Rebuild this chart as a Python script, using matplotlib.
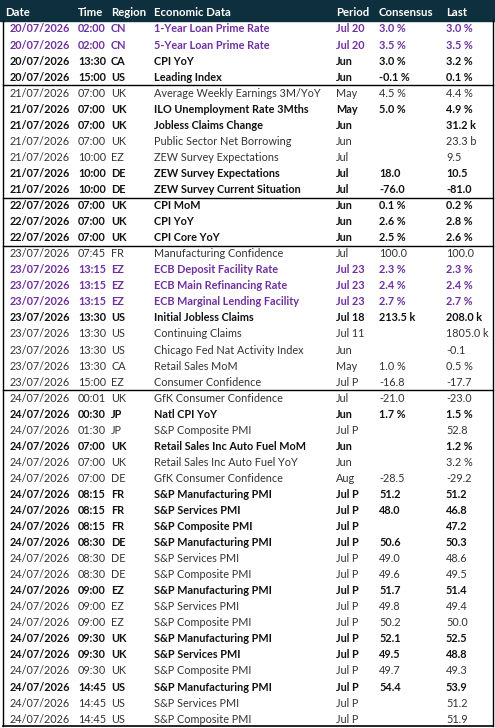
import matplotlib
matplotlib.use("Agg")
import matplotlib.pyplot as plt
from matplotlib.patches import Rectangle
from matplotlib.lines import Line2D

headers = ["Date", "Time", "Region", "Economic Data", "Period", "Consensus", "Last"]
dates = ["20/07/2026"]*4 + ["21/07/2026"]*7 + ["22/07/2026"]*3 + ["23/07/2026"]*9 + ["24/07/2026"]*21
times = ["02:00","02:00","13:30","15:00","07:00","07:00","07:00","07:00","10:00","10:00","10:00",
         "07:00","07:00","07:00","07:45","13:15","13:15","13:15","13:30","13:30","13:30","13:30","15:00",
         "00:01","00:30","01:30","07:00","07:00","07:00","08:15","08:15","08:15","08:30","08:30","08:30",
         "09:00","09:00","09:00","09:30","09:30","09:30","14:45","14:45","14:45"]
regions = ["CN","CN","CA","US","UK","UK","UK","UK","EZ","DE","DE","UK","UK","UK","FR","EZ","EZ","EZ",
           "US","US","US","CA","EZ","UK","JP","JP","UK","UK","DE","FR","FR","FR","DE","DE","DE",
           "EZ","EZ","EZ","UK","UK","UK","US","US","US"]
events = ["1-Year Loan Prime Rate","5-Year Loan Prime Rate","CPI YoY","Leading Index",
          "Average Weekly Earnings 3M/YoY","ILO Unemployment Rate 3Mths","Jobless Claims Change",
          "Public Sector Net Borrowing","ZEW Survey Expectations","ZEW Survey Expectations",
          "ZEW Survey Current Situation","CPI MoM","CPI YoY","CPI Core YoY","Manufacturing Confidence",
          "ECB Deposit Facility Rate","ECB Main Refinancing Rate","ECB Marginal Lending Facility",
          "Initial Jobless Claims","Continuing Claims","Chicago Fed Nat Activity Index","Retail Sales MoM",
          "Consumer Confidence","GfK Consumer Confidence","Natl CPI YoY","S&P Composite PMI",
          "Retail Sales Inc Auto Fuel MoM","Retail Sales Inc Auto Fuel YoY","GfK Consumer Confidence",
          "S&P Manufacturing PMI","S&P Services PMI","S&P Composite PMI",
          "S&P Manufacturing PMI","S&P Services PMI","S&P Composite PMI",
          "S&P Manufacturing PMI","S&P Services PMI","S&P Composite PMI",
          "S&P Manufacturing PMI","S&P Services PMI","S&P Composite PMI",
          "S&P Manufacturing PMI","S&P Services PMI","S&P Composite PMI"]
periods = ["Jul 20","Jul 20","Jun","Jun","May","May","Jun","Jun","Jul","Jul","Jul","Jun","Jun","Jun",
           "Jul","Jul 23","Jul 23","Jul 23","Jul 18","Jul 11","Jun","May","Jul P","Jul","Jun","Jul P",
           "Jun","Jun","Aug"] + ["Jul P"]*15
consensus = ["3.0 %","3.5 %","3.0 %","-0.1 %","4.5 %","5.0 %","","","","18.0","-76.0","0.1 %","2.6 %","2.5 %",
             "100.0","2.3 %","2.4 %","2.7 %","213.5 k","","","1.0 %","-16.8","-21.0","1.7 %","","","","-28.5",
             "51.2","48.0","","50.6","49.0","49.6","51.7","49.8","50.2","52.1","49.5","49.7","54.4","",""]
last = ["3.0 %","3.5 %","3.2 %","0.1 %","4.4 %","4.9 %","31.2 k","23.3 b","9.5","10.5","-81.0","0.2 %","2.8 %",
        "2.6 %","100.0","2.3 %","2.4 %","2.7 %","208.0 k","1805.0 k","-0.1","0.5 %","-17.7","-23.0","1.5 %",
        "52.8","1.2 %","3.2 %","-29.2","51.2","46.8","47.2","50.3","48.6","49.5","51.4","49.4","50.0",
        "52.5","48.8","49.3","53.9","51.2","51.9"]
styles = list("ppbb" "nbbnnbb" "bbb" "npppbnnnn" "nbnbnn" "bbbbnnbnnbbnbnn")
separators_after = [4, 11, 14, 23]

W, H = 495, 728
fig = plt.figure(figsize=(W/100, H/100), dpi=100)
ax = fig.add_axes([0, 0, 1, 1])
ax.set_xlim(0, W); ax.set_ylim(H, 0); ax.axis("off")

FAM = ["Lato", "DejaVu Sans"]
ax.add_patch(Rectangle((0, 0), W, 20.5, color="#0e2f3d", zorder=1))
hx = [5, 78, 111, 154, 336, 379, 446]
for x, h in zip(hx, headers):
    ax.text(x, 12, h, color="white", fontsize=8.2, fontweight="bold", va="center", ha="left", family=FAM)

y0, dy = 29, 16.05
purple = "#7030A0"
for i in range(len(dates)):
    y = y0 + i*dy
    s = styles[i]
    col = purple if s == "p" else ("#111111" if s == "b" else "#333333")
    fw = "bold" if s in "pb" else "normal"
    kw = dict(color=col, fontsize=7.8, fontweight=fw, va="center", family=FAM)
    ax.text(70, y, dates[i], ha="right", **kw)
    ax.text(78, y, times[i], ha="left", **kw)
    ax.text(111, y, regions[i], ha="left", **kw)
    ax.text(154, y, events[i], ha="left", **kw)
    ax.text(336, y, periods[i], ha="left", **kw)
    ax.text(379, y, consensus[i], ha="left", **kw)
    ax.text(446, y, last[i], ha="left", **kw)

for r in separators_after:
    y = y0 + (r - 0.5)*dy
    ax.add_line(Line2D([3, 493], [y, y], color="black", lw=1))
ax.add_line(Line2D([3, 3], [20.5, 726], color="black", lw=1))
ax.add_line(Line2D([493, 493], [20.5, 726], color="black", lw=1))
ax.add_line(Line2D([3, 493], [726, 726], color="black", lw=1.2))

fig.savefig("out.png", dpi=100, facecolor="white")
